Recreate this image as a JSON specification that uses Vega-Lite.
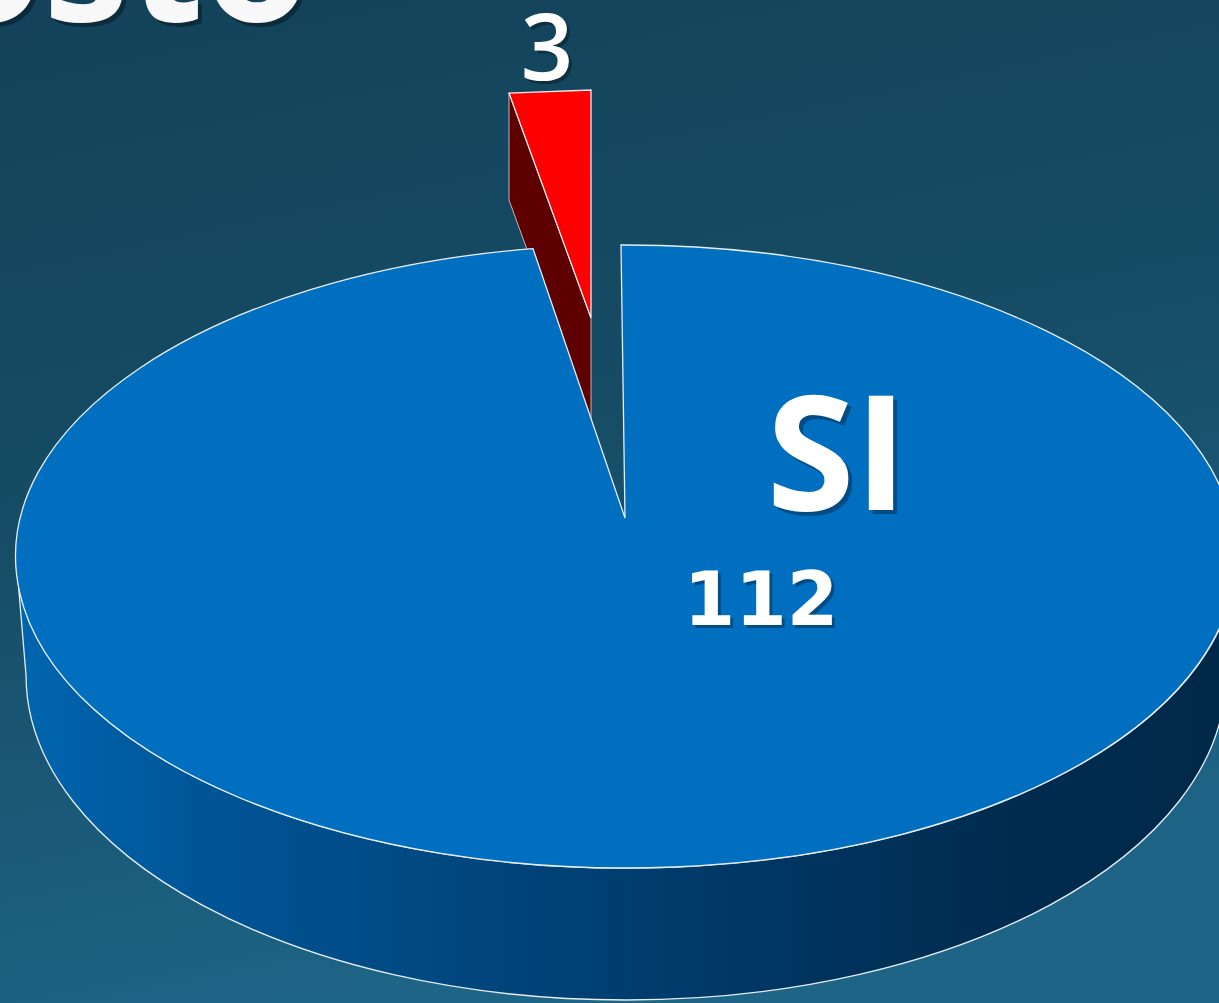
{
  "$schema": "https://vega.github.io/schema/vega-lite/v6.json",
  "width": 1219,
  "height": 1003,
  "padding": 0,
  "autosize": {"type": "none"},
  "background": "#174f69",
  "config": {"view": {"stroke": null}},
  "datasets": {
    "slices": [
      {"label": "SI", "value": 112},
      {"label": "NO", "value": 3}
    ]
  },
  "data": {"name": "slices"},
  "layer": [
    {
      "transform": [{"filter": "datum.label == 'SI'"}],
      "mark": {
        "type": "rect",
        "fill": {
          "gradient": "linear", "x1": 0, "y1": 0, "x2": 0.25, "y2": 1,
          "stops": [
            {"offset": 0, "color": "#13425a"},
            {"offset": 0.5, "color": "#164c65"},
            {"offset": 1, "color": "#1e6486"}
          ]
        }
      },
      "encoding": {
        "x": {"datum": -620, "type": "quantitative", "scale": {"domain": [-620, 599], "nice": false, "zero": false}, "axis": null},
        "x2": {"datum": 599},
        "y": {"datum": -518, "type": "quantitative", "scale": {"domain": [-518, 485], "nice": false, "zero": false, "reverse": true}, "axis": null},
        "y2": {"datum": 485}
      }
    },
    {
      "transform": [{"filter": "datum.label == 'NO'"}],
      "mark": {
        "type": "point", "filled": true, "opacity": 1, "size": 4,
        "shape": "M -111 -425 L -29 -200 L -29 -93 L -111 -318 Z",
        "fill": "#5e0000", "stroke": "#e6d6d6", "strokeWidth": 1, "strokeOpacity": 0.8
      },
      "encoding": {
        "x": {"datum": 0, "type": "quantitative", "scale": {"domain": [-620, 599], "nice": false, "zero": false}, "axis": null},
        "y": {"datum": 0, "type": "quantitative", "scale": {"domain": [-518, 485], "nice": false, "zero": false, "reverse": true}, "axis": null}
      }
    },
    {
      "transform": [{"filter": "datum.label == 'SI'"}],
      "mark": {
        "type": "point", "filled": true, "opacity": 1, "size": 4,
        "shape": "M -604 38.5 A 610 311.5 0 0 0 616 38.5 L 606 157 A 600 325 0 0 1 -594 157 Z",
        "fill": {
          "gradient": "linear", "x1": 0, "y1": 0, "x2": 1, "y2": 0,
          "stops": [
            {"offset": 0, "color": "#0066b0"},
            {"offset": 0.15, "color": "#005597"},
            {"offset": 0.4, "color": "#00447a"},
            {"offset": 0.6, "color": "#003764"},
            {"offset": 0.8, "color": "#002c50"},
            {"offset": 1, "color": "#002848"}
          ]
        },
        "stroke": "#e6edf4", "strokeWidth": 1.3
      },
      "encoding": {
        "x": {"datum": 0, "type": "quantitative", "scale": {"domain": [-620, 599], "nice": false, "zero": false}, "axis": null},
        "y": {"datum": 0, "type": "quantitative", "scale": {"domain": [-518, 485], "nice": false, "zero": false, "reverse": true}, "axis": null}
      }
    },
    {
      "mark": {
        "type": "point", "filled": true, "opacity": 1, "size": 4,
        "stroke": "#e6edf4", "strokeWidth": 1.3
      },
      "encoding": {
        "x": {"datum": 0, "type": "quantitative", "scale": {"domain": [-620, 599], "nice": false, "zero": false}, "axis": null},
        "y": {"datum": 0, "type": "quantitative", "scale": {"domain": [-518, 485], "nice": false, "zero": false, "reverse": true}, "axis": null},
        "shape": {
          "field": "label", "type": "nominal", "legend": null,
          "scale": {
            "domain": ["SI", "NO"],
            "range": [
              "M 5 0 L 1 -273 A 610 311.5 0 1 1 -87 -269.4 Z",
              "M -29 -200 L -29 -428 L -111 -425 Z"
            ]
          }
        },
        "fill": {
          "field": "label", "type": "nominal", "legend": null,
          "scale": {"domain": ["SI", "NO"], "range": ["#006fc0", "#ff0000"]}
        }
      }
    },
    {
      "transform": [{"filter": "datum.label == 'SI'"}],
      "mark": {"type": "text", "text": "Risposto", "font": "Open Sans", "fontWeight": "bold", "fontSize": 172, "align": "right", "baseline": "alphabetic", "fill": "#000000", "opacity": 0.35, "dx": 4, "dy": 4},
      "encoding": {
        "x": {"datum": -310, "type": "quantitative", "scale": {"domain": [-620, 599], "nice": false, "zero": false}, "axis": null},
        "y": {"datum": -497, "type": "quantitative", "scale": {"domain": [-518, 485], "nice": false, "zero": false, "reverse": true}, "axis": null}
      }
    },
    {
      "transform": [{"filter": "datum.label == 'SI'"}],
      "mark": {"type": "text", "text": "Risposto", "font": "Open Sans", "fontWeight": "bold", "fontSize": 172, "align": "right", "baseline": "alphabetic", "fill": "#f8f8f8"},
      "encoding": {
        "x": {"datum": -310, "type": "quantitative", "scale": {"domain": [-620, 599], "nice": false, "zero": false}, "axis": null},
        "y": {"datum": -497, "type": "quantitative", "scale": {"domain": [-518, 485], "nice": false, "zero": false, "reverse": true}, "axis": null}
      }
    },
    {
      "transform": [{"filter": "datum.label == 'SI'"}],
      "mark": {"type": "text", "font": "Open Sans", "fontWeight": "bold", "fontSize": 160, "align": "center", "baseline": "alphabetic", "fill": "#000000", "opacity": 0.3, "dx": 4, "dy": 4},
      "encoding": {
        "x": {"datum": 217, "type": "quantitative", "scale": {"domain": [-620, 599], "nice": false, "zero": false}, "axis": null},
        "y": {"datum": -8, "type": "quantitative", "scale": {"domain": [-518, 485], "nice": false, "zero": false, "reverse": true}, "axis": null},
        "text": {"field": "label"}
      }
    },
    {
      "transform": [{"filter": "datum.label == 'SI'"}],
      "mark": {"type": "text", "font": "Open Sans", "fontWeight": "bold", "fontSize": 160, "align": "center", "baseline": "alphabetic", "fill": "#ffffff"},
      "encoding": {
        "x": {"datum": 217, "type": "quantitative", "scale": {"domain": [-620, 599], "nice": false, "zero": false}, "axis": null},
        "y": {"datum": -8, "type": "quantitative", "scale": {"domain": [-518, 485], "nice": false, "zero": false, "reverse": true}, "axis": null},
        "text": {"field": "label"}
      }
    },
    {
      "transform": [{"filter": "datum.label == 'SI'"}],
      "mark": {"type": "text", "font": "DejaVu Sans", "fontWeight": "bold", "fontSize": 74, "align": "center", "baseline": "alphabetic", "fill": "#000000", "opacity": 0.3, "dx": 3, "dy": 3},
      "encoding": {
        "x": {"datum": 141, "type": "quantitative", "scale": {"domain": [-620, 599], "nice": false, "zero": false}, "axis": null},
        "y": {"datum": 107, "type": "quantitative", "scale": {"domain": [-518, 485], "nice": false, "zero": false, "reverse": true}, "axis": null},
        "text": {"field": "value", "type": "quantitative"}
      }
    },
    {
      "transform": [{"filter": "datum.label == 'SI'"}],
      "mark": {"type": "text", "font": "DejaVu Sans", "fontWeight": "bold", "fontSize": 74, "align": "center", "baseline": "alphabetic", "fill": "#ffffff"},
      "encoding": {
        "x": {"datum": 141, "type": "quantitative", "scale": {"domain": [-620, 599], "nice": false, "zero": false}, "axis": null},
        "y": {"datum": 107, "type": "quantitative", "scale": {"domain": [-518, 485], "nice": false, "zero": false, "reverse": true}, "axis": null},
        "text": {"field": "value", "type": "quantitative"}
      }
    },
    {
      "transform": [{"filter": "datum.label == 'NO'"}],
      "mark": {"type": "text", "font": "Open Sans", "fontWeight": 600, "fontSize": 92, "align": "center", "baseline": "alphabetic", "fill": "#000000", "opacity": 0.3, "dx": 3, "dy": 3},
      "encoding": {
        "x": {"datum": -73, "type": "quantitative", "scale": {"domain": [-620, 599], "nice": false, "zero": false}, "axis": null},
        "y": {"datum": -438, "type": "quantitative", "scale": {"domain": [-518, 485], "nice": false, "zero": false, "reverse": true}, "axis": null},
        "text": {"field": "value", "type": "quantitative"}
      }
    },
    {
      "transform": [{"filter": "datum.label == 'NO'"}],
      "mark": {"type": "text", "font": "Open Sans", "fontWeight": 600, "fontSize": 92, "align": "center", "baseline": "alphabetic", "fill": "#ffffff"},
      "encoding": {
        "x": {"datum": -73, "type": "quantitative", "scale": {"domain": [-620, 599], "nice": false, "zero": false}, "axis": null},
        "y": {"datum": -438, "type": "quantitative", "scale": {"domain": [-518, 485], "nice": false, "zero": false, "reverse": true}, "axis": null},
        "text": {"field": "value", "type": "quantitative"}
      }
    }
  ]
}
